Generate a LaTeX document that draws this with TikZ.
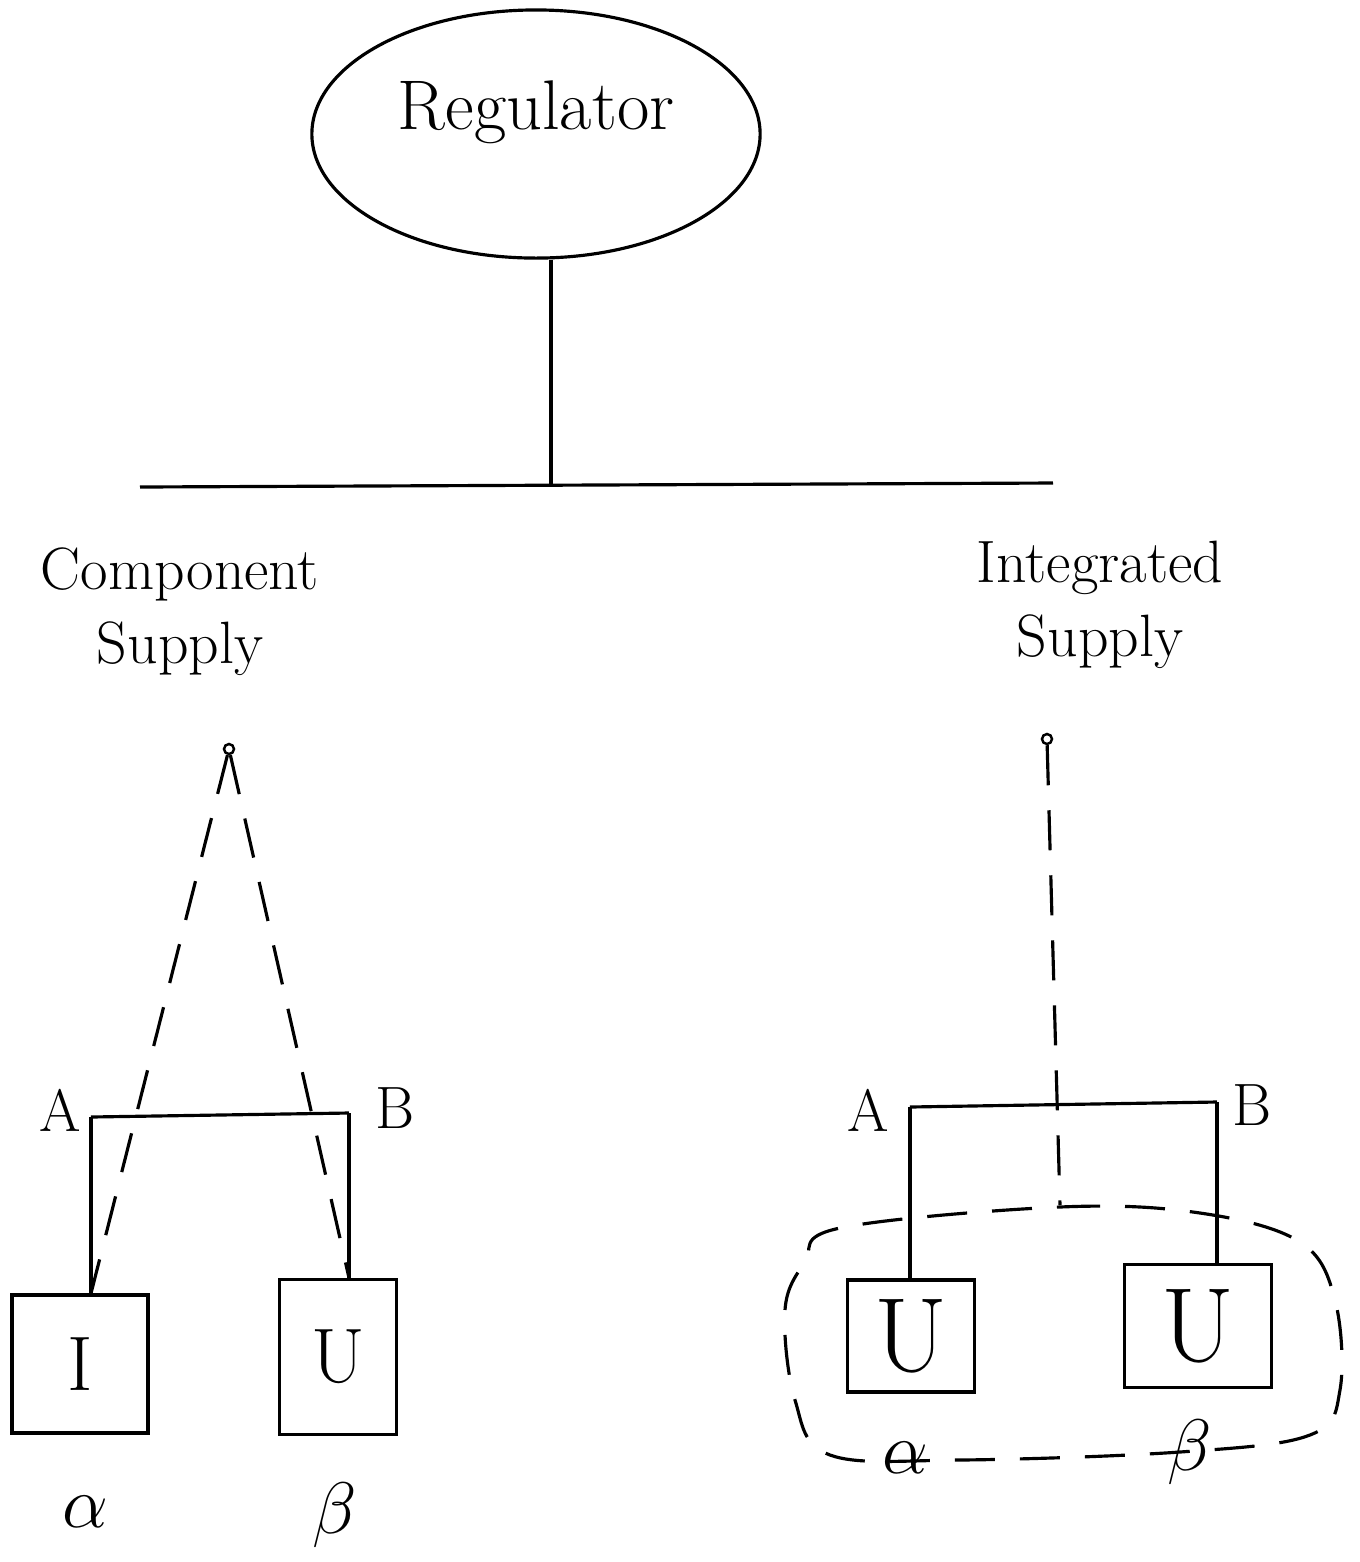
\documentclass[tikz,border=0pt]{standalone}
\usepackage{fontspec}
\usetikzlibrary{shapes.geometric, positioning}

\begin{document}
\begin{tikzpicture}[
    x=0.01cm, y=-0.01cm,
    line width=0.9pt,
    font=\fontsize{17}{21}\selectfont,
    blob/.style={ellipse, draw, minimum width=4.48cm, minimum height=2.48cm},
    firm/.style={draw, inner sep=0pt, font=\fontsize{22}{26}\selectfont},
    pin/.style={circle, draw, line width=0.7pt, inner sep=0pt, minimum size=0.1cm},
    tie/.style={dash pattern=on 0.4cm off 0.25cm},
    greek/.style={font=\fontsize{22}{26}\selectfont}
]
\useasboundingbox (0,0) rectangle (1359,1562);

% regulator and the bus below it
\node[blob] (reg) at (536,134) {};
\node[font=\fontsize{20}{24}\selectfont] (regname) at ([yshift=0.22cm]reg.center) {Regulator};
\coordinate (busL) at (140,487);
\coordinate (busR) at (1053,483);
\coordinate (jn) at (551,485);
\draw (busL) -- (busR);
\draw (reg.south -| jn) -- (jn);

% component supply
\node[align=center] (comp) at (180,612) {Component\\Supply};
\node[pin] (pinL) at (229,749) {};
\coordinate (cA) at (91,1117);
\coordinate (cB) at (349,1113);
\node (labA) at (60,1110) {A};
\node (labB) at (395,1108) {B};
\node[firm, minimum width=1.36cm, minimum height=1.38cm] (ownI) at (80,1364) {I};
\node[firm, minimum width=1.17cm, minimum height=1.55cm] (ownU) at (338,1357) {U};
\draw (cA) -- (cB);
\draw (cA) -- (cA |- ownI.north);
\draw (cB) -- (cB |- ownU.north);
\draw[tie] (pinL) -- (cA |- ownI.north);
\draw[tie] (pinL) -- (cB |- ownU.north);
\node[greek] (alphaL) at (85,1512) {$\alpha$};
\node[greek] (betaL) at (335,1515) {$\beta$};

% integrated supply
\node[align=center] (integ) at (1100,605) {Integrated\\Supply};
\node[pin] (pinR) at (1047,739) {};
\coordinate (dA) at (910,1107);
\coordinate (dB) at (1217,1102);
\node (labA2) at (868,1110) {A};
\node (labB2) at (1252,1105) {B};
\node[firm, minimum width=1.27cm, minimum height=1.12cm, font=\fontsize{30}{34}\selectfont] (uA) at (911,1336) {U};
\node[firm, minimum width=1.47cm, minimum height=1.23cm, font=\fontsize{30}{34}\selectfont] (uB) at (1198,1326) {U};
\draw (dA) -- (dB);
\draw (dA) -- (dA |- uA.north);
\draw (dB) -- (dB |- uB.north);
\coordinate (gtop) at (1060,1205);
\draw[tie] (pinR) -- (gtop);
\draw[tie] plot[smooth cycle, tension=0.6] coordinates {
    (840,1228) (1060,1207) (1200,1213) (1300,1242) (1335,1300)
    (1340,1390) (1310,1435) (1180,1452) (960,1460) (830,1455)
    (795,1400) (785,1310) (805,1262)};
\node[greek] (alphaR) at (905,1458) {$\alpha$};
\node[greek] (betaR) at (1190,1452) {$\beta$};
\end{tikzpicture}
\end{document}
